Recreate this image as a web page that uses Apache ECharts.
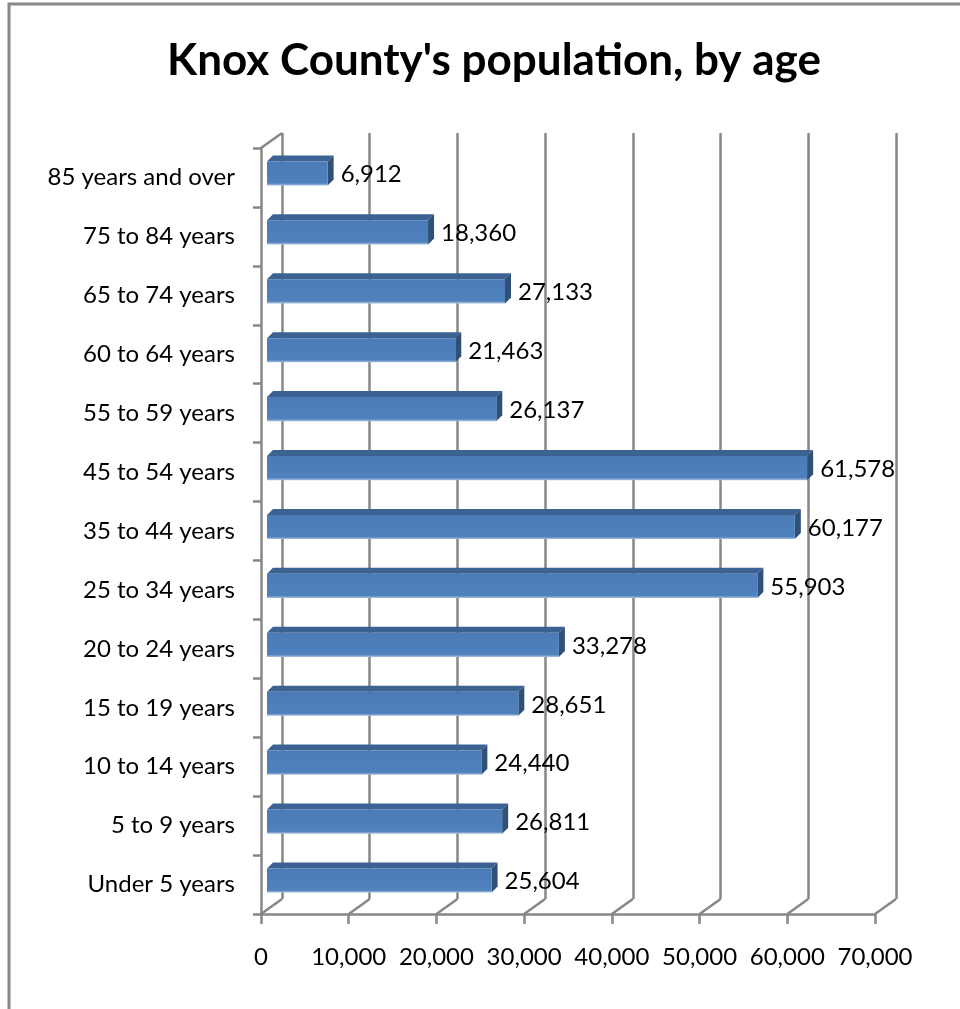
<!DOCTYPE html>
<html>
<head>
<meta charset="utf-8">
<title>Knox County's population, by age</title>
<script src="https://cdn.jsdelivr.net/npm/echarts@6/dist/echarts.min.js"></script>
<style>
  html, body { margin: 0; padding: 0; background: #fff; }
  #chart { width: 960px; height: 1009px; }
</style>
</head>
<body>
<div id="chart"></div>
<script>
// Age groups, bottom to top
const categories = [
  'Under 5 years', '5 to 9 years', '10 to 14 years', '15 to 19 years',
  '20 to 24 years', '25 to 34 years', '35 to 44 years', '45 to 54 years',
  '55 to 59 years', '60 to 64 years', '65 to 74 years', '75 to 84 years',
  '85 years and over'
];
// Residents in each age group
const population = [
  25604, 26811, 24440, 28651, 33278, 55903, 60177, 61578,
  26137, 21463, 27133, 18360, 6912
];
// Value axis ticks
const xTicks = [0, 10000, 20000, 30000, 40000, 50000, 60000, 70000];

const FONT = 'Lato, "Open Sans", sans-serif';
const GRID_COLOR = '#878787';
const DEPTH_X = 21, DEPTH_Y = 15;   // offset of the back wall
const BAR_D = 6;                    // bar bevel depth
const fmt = v => Number(v).toLocaleString('en-US');

const chart = echarts.init(document.getElementById('chart'), null, { renderer: 'canvas' });

const axisMin = xTicks[0], axisMax = xTicks[xTicks.length - 1];
const axisStep = xTicks[1] - xTicks[0];

const option = {
  animation: false,
  backgroundColor: '#fff',
  title: {
    text: "Knox County's population, by age",
    left: 489,
    top: 34,
    textAlign: 'center',
    textStyle: { fontFamily: FONT, fontWeight: 'bold', fontSize: 44, color: '#000' }
  },
  graphic: [{
    type: 'rect',
    shape: { x: 9, y: 4, width: 1000, height: 1100 },
    style: { fill: 'none', stroke: '#888', lineWidth: 3 },
    silent: true, z: 0
  }],
  grid: [
    // front: axis lines and labels
    { left: 261, top: 148, width: 614, height: 766 },
    // back wall: vertical gridlines
    { left: 282, top: 133, width: 614, height: 766 },
    // bars
    { left: 267, top: 144, width: 614, height: 766 }
  ],
  xAxis: [
    {
      gridIndex: 0, type: 'value', min: axisMin, max: axisMax, interval: axisStep,
      axisLine: { show: true, lineStyle: { color: GRID_COLOR, width: 2.5 } },
      axisTick: { show: true, length: 10, lineStyle: { color: GRID_COLOR, width: 2.5 } },
      axisLabel: { margin: 31, fontFamily: FONT, fontSize: 24, color: '#000', formatter: fmt },
      splitLine: { show: false }
    },
    {
      gridIndex: 1, type: 'value', min: axisMin, max: axisMax, interval: axisStep,
      axisLine: { show: false }, axisTick: { show: false }, axisLabel: { show: false },
      splitLine: { show: true, lineStyle: { color: GRID_COLOR, width: 2.5 } }
    },
    {
      gridIndex: 2, type: 'value', min: axisMin, max: axisMax, show: false,
      splitLine: { show: false }
    }
  ],
  yAxis: [
    {
      gridIndex: 0, type: 'category', data: categories,
      axisLine: { show: true, lineStyle: { color: GRID_COLOR, width: 2.5 } },
      axisTick: { show: true, length: 8, lineStyle: { color: GRID_COLOR, width: 2.5 } },
      axisLabel: { margin: 26, fontFamily: FONT, fontSize: 24, color: '#000', padding: [5, 0, 0, 0] }
    },
    { gridIndex: 1, type: 'category', data: categories, show: false },
    { gridIndex: 2, type: 'category', data: categories, show: false }
  ],
  series: [
    {
      // floor diagonals joining front ticks to back gridlines, plus the top-left wall edge
      type: 'custom',
      xAxisIndex: 0, yAxisIndex: 0,
      data: xTicks.map(v => [v]),
      silent: true,
      z: 1,
      renderItem: (params, api) => {
        const cs = params.coordSys;
        const x = api.coord([api.value(0), 0])[0];
        const bottom = cs.y + cs.height;
        const style = { stroke: GRID_COLOR, lineWidth: 2.5 };
        const children = [{
          type: 'line',
          shape: { x1: x, y1: bottom, x2: x + DEPTH_X, y2: bottom - DEPTH_Y },
          style
        }];
        if (params.dataIndex === 0) {
          children.push({
            type: 'line',
            shape: { x1: cs.x, y1: cs.y, x2: cs.x + DEPTH_X, y2: cs.y - DEPTH_Y },
            style
          });
        }
        return { type: 'group', children };
      }
    },
    {
      // bevelled bars with value labels
      type: 'custom',
      xAxisIndex: 2, yAxisIndex: 2,
      data: population.map((v, i) => [v, i]),
      z: 5,
      renderItem: (params, api) => {
        const v = api.value(0);
        const idx = api.value(1);
        const start = api.coord([0, idx]);
        const end = api.coord([v, idx]);
        const band = api.size([0, 1])[1];
        const h = band * 0.41;
        const x0 = start[0], x1 = end[0];
        const y0 = start[1] - h / 2, y1 = y0 + h;
        const d = BAR_D;
        return {
          type: 'group',
          children: [
            {
              type: 'polygon',
              shape: { points: [[x0, y0], [x0 + d, y0 - d], [x1 + d, y0 - d], [x1, y0]] },
              style: { fill: '#3c6292' }
            },
            {
              type: 'polygon',
              shape: { points: [[x1, y0], [x1 + d, y0 - d], [x1 + d, y1 - d], [x1, y1]] },
              style: { fill: '#2f5078' }
            },
            {
              type: 'rect',
              shape: { x: x0, y: y0, width: x1 - x0, height: h },
              style: {
                fill: new echarts.graphic.LinearGradient(0, 0, 0, 1, [
                  { offset: 0, color: '#4a7bb7' },
                  { offset: 0.9, color: '#4f81bd' },
                  { offset: 1, color: '#a9c1df' }
                ])
              }
            },
            {
              type: 'text',
              style: {
                x: x1 + d + 7, y: start[1] + 1,
                text: fmt(v),
                fill: '#000',
                font: '24px ' + FONT,
                align: 'left', verticalAlign: 'middle'
              }
            }
          ]
        };
      }
    }
  ]
};

chart.setOption(option);
</script>
</body>
</html>
